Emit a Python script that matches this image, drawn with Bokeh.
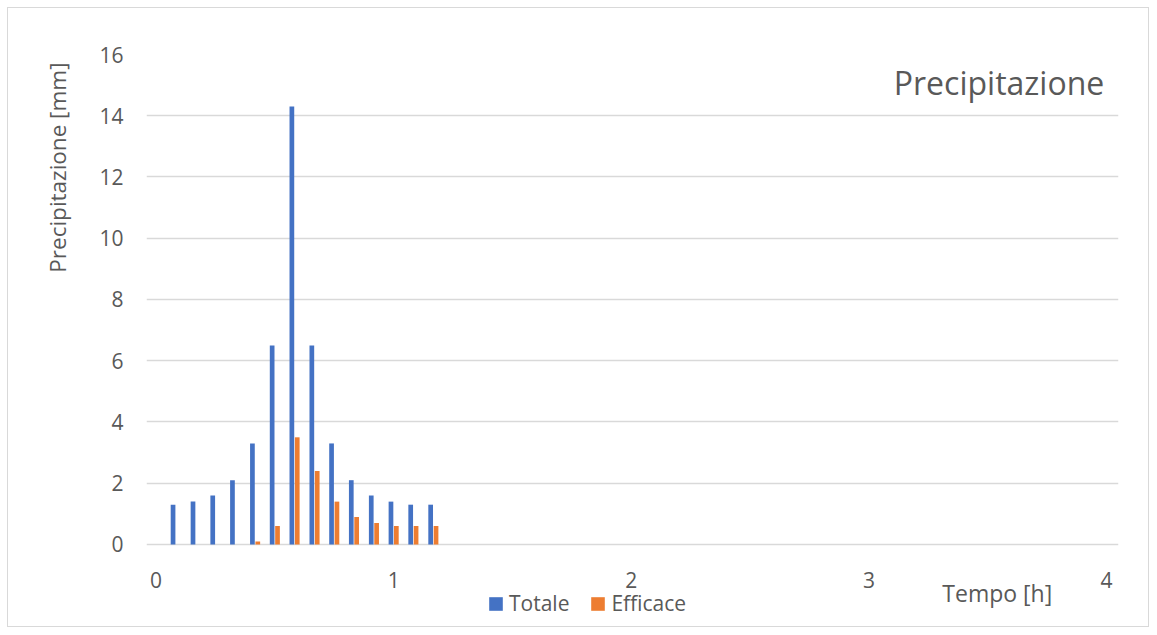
from bokeh.plotting import figure
from bokeh.models import Range1d, Label, Legend, LegendItem, ColumnDataSource, Title
from bokeh.transform import dodge
from bokeh.embed import file_html
from bokeh.resources import INLINE

# ---- data ----
tempo_h = [0.083, 0.167, 0.25, 0.333, 0.417, 0.5, 0.583, 0.667, 0.75, 0.833, 0.917, 1.0, 1.083, 1.167]
totale = [1.3, 1.4, 1.6, 2.1, 3.3, 6.5, 14.3, 6.5, 3.3, 2.1, 1.6, 1.4, 1.3, 1.3]
efficace = [0.0, 0.0, 0.0, 0.0, 0.1, 0.6, 3.5, 2.4, 1.4, 0.9, 0.7, 0.6, 0.6, 0.6]
x_ticks = [0, 1, 2, 3, 4]
y_ticks = [0, 2, 4, 6, 8, 10, 12, 14, 16]
series_names = ["Totale", "Efficace"]
title_text = "Precipitazione"
x_title = "Tempo [h]"
y_title = "Precipitazione [mm]"

BLUE = "#4472C4"
ORANGE = "#ED7D31"
GREY_TXT = "#595959"
GRID = "#D9D9D9"
FONT = "Open Sans"

src = ColumnDataSource(dict(t=tempo_h, tot=totale, eff=efficace))

p = figure(width=1142, height=620, output_backend="svg", toolbar_location=None,
           x_range=Range1d(-0.04, 4.05), y_range=Range1d(-2.547, 16),
           min_border_left=138, min_border_right=32, min_border_top=46, min_border_bottom=6)
p.styles = {"margin-left": "7px", "margin-top": "7px", "border": "1px solid #D9D9D9"}
p.outline_line_color = None
p.background_fill_color = "white"
p.border_fill_color = "white"

bw = 0.0198
p.vbar(x=dodge("t", -0.0113, range=p.x_range), top="tot", bottom=0, width=bw, source=src,
       fill_color=BLUE, line_color=None)
p.vbar(x=dodge("t", 0.0113, range=p.x_range), top="eff", bottom=0, width=bw, source=src,
       fill_color=ORANGE, line_color=None)

# zero-size rects sharing the bar data: used only to draw square legend keys
k1 = p.rect(x="t", y="tot", width=0, height=0, source=src, fill_color=BLUE, line_color=None)
k2 = p.rect(x="t", y="eff", width=0, height=0, source=src, fill_color=ORANGE, line_color=None)

# axes
p.xaxis.ticker = x_ticks
p.yaxis.ticker = y_ticks
for ax in (p.xaxis[0], p.yaxis[0]):
    ax.major_tick_line_color = None
    ax.minor_tick_line_color = None
    ax.major_label_text_font = FONT
    ax.major_label_text_font_size = "21px"
    ax.major_label_text_color = GREY_TXT
    ax.axis_line_color = None
p.xaxis.major_label_standoff = -57
p.yaxis.major_label_standoff = 17

p.xgrid.grid_line_color = None
p.ygrid.grid_line_color = GRID
p.ygrid.grid_line_width = 1.3

# titles
p.add_layout(Label(x=3.99, y=15.09, text=title_text, text_align="right", text_baseline="middle",
                   text_font=FONT, text_font_size="32px", text_color=GREY_TXT))
p.add_layout(Label(x=3.54, y=-1.6, text=x_title, text_align="center", text_baseline="middle",
                   text_font=FONT, text_font_size="23px", text_color=GREY_TXT))
p.add_layout(Title(text=y_title, align="right", offset=8, standoff=47,
                   text_font=FONT, text_font_size="22.5px", text_font_style="normal",
                   text_color=GREY_TXT), "left")

legend = Legend(items=[LegendItem(label=series_names[0], renderers=[k1]),
                       LegendItem(label=series_names[1], renderers=[k2])],
                orientation="horizontal", location=(341, 5),
                glyph_width=17, glyph_height=17, spacing=20, label_standoff=5,
                label_text_font=FONT, label_text_font_size="21px", label_text_color=GREY_TXT,
                border_line_color=None, background_fill_alpha=0, padding=4, margin=0)
p.add_layout(legend)

open("out.html", "w").write(file_html(p, INLINE))
